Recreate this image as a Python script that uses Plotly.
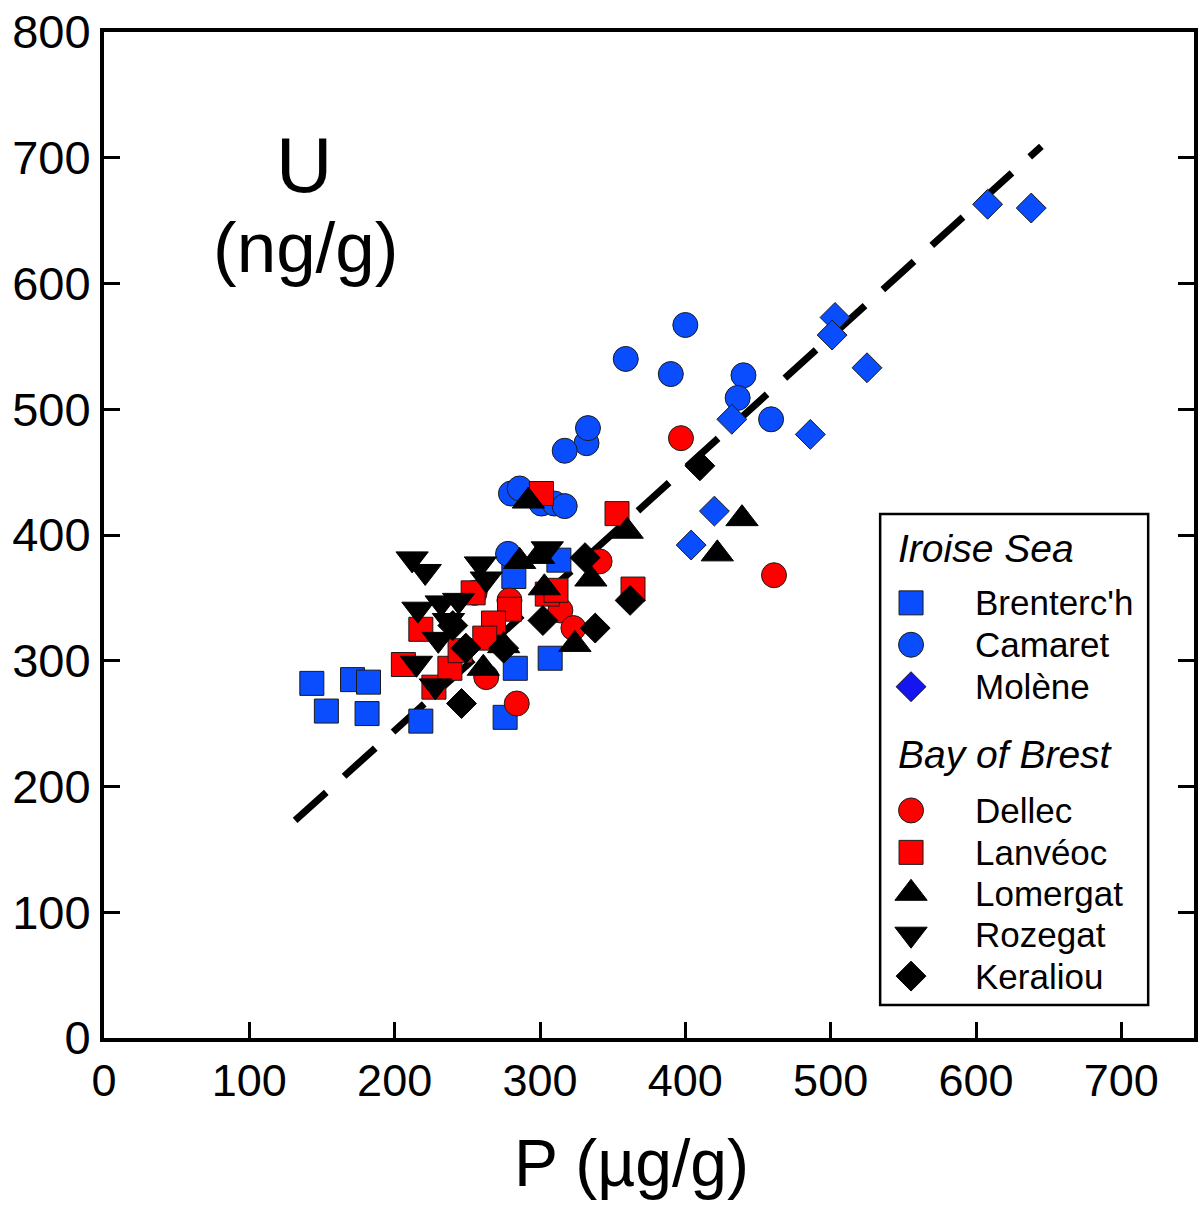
import plotly.graph_objects as go

# ---------------- data (P in µg/g, U in ng/g) ----------------
brenterch_p = [143, 153, 171, 182, 181, 218, 276, 283, 282, 307, 313]
brenterch_u = [282, 260, 285, 283, 258, 252, 255, 294, 367, 302, 380]

camaret_p = [400, 359, 390, 440, 436, 459, 332, 333, 317, 280, 286, 301, 310, 317, 278]
camaret_u = [567, 540, 528, 527, 509, 492, 473, 485, 467, 433, 437, 425, 425, 423, 385]

molene_p = [608, 638, 503, 501, 525, 486, 432, 420, 404]
molene_u = [663, 660, 573, 559, 533, 480, 492, 419, 392]

dellec_p = [397, 461, 341, 284, 263, 279, 314, 323, 255]
dellec_u = [477, 368, 379, 266, 287, 348, 340, 326, 354]

lanveoc_p = [301, 353, 364, 305, 311, 279, 268, 262, 254, 206, 218, 227, 238, 245]
lanveoc_u = [433, 417, 357, 353, 356, 341, 330, 318, 354, 297, 325, 279, 294, 308]

lomergat_p = [292, 360, 439, 422, 286, 335, 303, 324, 275, 261, 299]
lomergat_u = [427, 403, 413, 385, 379, 365, 358, 313, 312, 294, 383]

rozegat_p = [212, 221, 259, 263, 216, 232, 244, 237, 230, 215, 228, 305]
rozegat_u = [381, 371, 377, 365, 341, 346, 348, 332, 317, 298, 280, 389]

keraliou_p = [410, 331, 362, 338, 302, 246, 249, 275, 240]
keraliou_u = [455, 382, 348, 326, 332, 266, 310, 310, 328]

# regression line U = a*P + b over P range
fit_slope = 1.044
fit_intercept = 35.7
fit_p_range = [131.5, 645]

x_ticks = [0, 100, 200, 300, 400, 500, 600, 700]
y_ticks = [0, 100, 200, 300, 400, 500, 600, 700, 800]

# legend content
legend_groups = ["Iroise Sea", "Bay of Brest"]
legend_names = ["Brenterc'h", "Camaret", "Molène", "Dellec", "Lanvéoc", "Lomergat", "Rozegat", "Keraliou"]

# ---------------- styling ----------------
BLUE = "#0a4dff"
RED = "#ff0000"
BLACK = "#000000"
FONT = "Liberation Sans, Arial, sans-serif"

series = [
    (brenterch_p, brenterch_u, "square", BLUE, 24),
    (camaret_p, camaret_u, "circle", BLUE, 25),
    (molene_p, molene_u, "diamond", BLUE, 23),
    (dellec_p, dellec_u, "circle", RED, 25),
    (lanveoc_p, lanveoc_u, "square", RED, 24),
    (lomergat_p, lomergat_u, "triangle-up", BLACK, 28),
    (rozegat_p, rozegat_u, "triangle-down", BLACK, 28),
    (keraliou_p, keraliou_u, "diamond", BLACK, 23),
]

fig = go.Figure()

fit_u = [fit_slope * p + fit_intercept for p in fit_p_range]
fig.add_trace(go.Scatter(
    x=fit_p_range, y=fit_u, mode="lines",
    line=dict(color="black", width=7, dash="42px,24px"),
    showlegend=False, hoverinfo="skip"))

for (px, uy, sym, col, sz), name in zip(series, legend_names):
    fig.add_trace(go.Scatter(
        x=px, y=uy, mode="markers", name=name,
        marker=dict(symbol=sym, color=col, size=sz,
                    line=dict(color="#1a1a1a" if col != BLACK else BLACK, width=1)),
        showlegend=False))

# ---------------- manual legend (overlay axis 0..1 over the plot area) ----------------
plot_top, plot_bottom = 30, 1038
plot_left, plot_right = 104, 1198
def fy(py):
    return (plot_bottom - py) / (plot_bottom - plot_top)
def fx(px):
    return (px - plot_left) / (plot_right - plot_left)

item_rows = [602, 644, 686, 810, 852, 893, 934, 976]
group_rows = [548, 754]

for (px_, uy_, sym, col, sz), name, row in zip(series, legend_names, item_rows):
    leg_col = "#1515f0" if name == "Molène" else col
    fig.add_trace(go.Scatter(
        x=[fx(914)], y=[fy(row)], xaxis="x2", yaxis="y2", mode="markers",
        marker=dict(symbol=sym, color=leg_col, size=sz,
                    line=dict(color="#1a1a1a" if col != BLACK else BLACK, width=1)),
        showlegend=False, hoverinfo="skip"))
    fig.add_annotation(x=fx(976), y=fy(row), xref="paper", yref="paper",
                       text=name, showarrow=False, xanchor="left", yanchor="middle",
                       font=dict(family=FONT, size=35, color="black"))

for g, row in zip(legend_groups, group_rows):
    fig.add_annotation(x=fx(899), y=fy(row), xref="paper", yref="paper",
                       text=f"<i>{g}</i>", showarrow=False, xanchor="left", yanchor="middle",
                       font=dict(family=FONT, size=39, color="black"))

fig.add_shape(type="rect", xref="paper", yref="paper",
              x0=fx(883), x1=fx(1152), y0=fy(1005), y1=fy(513),
              line=dict(color="black", width=2.5), fillcolor="rgba(0,0,0,0)")

# big U label
fig.add_annotation(x=fx(305), y=fy(163), xref="paper", yref="paper", text="U",
                   showarrow=False, xanchor="center", yanchor="middle",
                   font=dict(family=FONT, size=78, color="black"))
fig.add_annotation(x=fx(306), y=fy(246), xref="paper", yref="paper", text="(ng/g)",
                   showarrow=False, xanchor="center", yanchor="middle",
                   font=dict(family=FONT, size=71, color="black"))

# x axis title
fig.add_annotation(x=fx(633), y=fy(1163), xref="paper", yref="paper", text="P (µg/g)",
                   showarrow=False, xanchor="center", yanchor="middle",
                   font=dict(family=FONT, size=66, color="black"))

fig.update_layout(
    width=1203, height=1208,
    margin=dict(l=104, r=5, t=30, b=170),
    paper_bgcolor="white", plot_bgcolor="white",
    font=dict(family=FONT, color="black"),
    xaxis=dict(range=[0, 750], tickvals=x_ticks, ticks="inside", ticklen=16, tickwidth=3,
               tickcolor="black", showline=True, linewidth=4, linecolor="black", mirror=True,
               showgrid=False, zeroline=False, tickfont=dict(size=45, family=FONT)),
    yaxis=dict(range=[0, 800], tickvals=y_ticks, ticks="inside", ticklen=16, tickwidth=3,
               tickcolor="black", showline=True, linewidth=4, linecolor="black", mirror="ticks",
               showgrid=False, zeroline=False, tickfont=dict(size=47, family=FONT)),
    xaxis2=dict(range=[0, 1], overlaying="x", visible=False, fixedrange=True),
    yaxis2=dict(range=[0, 1], overlaying="y", visible=False, fixedrange=True),
    showlegend=False,
)

fig.write_html("out.html")
